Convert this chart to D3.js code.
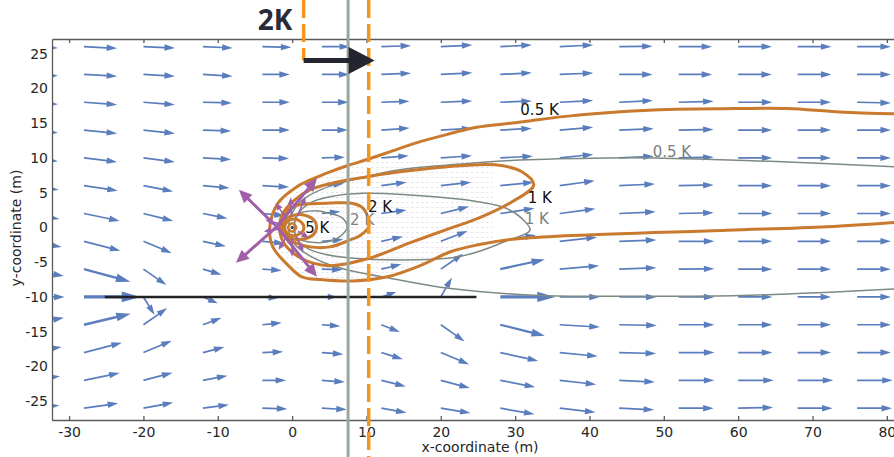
<!DOCTYPE html>
<html lang="en">
<head>
  <meta charset="UTF-8">
  <script src="https://d3js.org/d3.v7.min.js"></script>
  <title>Heat plume and flow field</title>
  <style>
  body { margin:0; background:#fff; }
  svg { display:block; }
  .axis text { font-family: "DejaVu Sans", sans-serif; font-size:14px; fill:#262626; }
  .axis path, .axis line { stroke:#5a5a5a; stroke-width:1.3; }
  .axis-title { font-family: "DejaVu Sans", sans-serif; font-size:14px; fill:#262626; }
  .clabel { font-family: "DejaVu Sans", sans-serif; font-size:15px; }
  .big-label { font-family: "Open Sans", sans-serif; font-weight:700; font-size:28px; fill:#2b2b38; }
  </style>
</head>
<body>
<svg id="chart" width="894" height="457"></svg>
<script>

// quiver grid (m) and flow components
const flowX = [-36, -28, -20, -12, -4, 4, 12, 20, 28, 36, 44, 52, 60, 68, 76];
const flowY = [26, 22, 18, 14, 10, 6, 2, -2, -6, -10, -14, -18, -22, -26];
const flowU = [
  [4.5, 4.46, 4.24, 4.0, 3.9, 3.8, 4.0, 4.25, 4.25, 4.5, 4.5, 4.5, 4.55, 4.55, 4.55],
  [4.5, 4.46, 4.24, 4.0, 3.7, 3.7, 4.0, 4.25, 4.25, 4.5, 4.5, 4.5, 4.55, 4.55, 4.55],
  [4.5, 4.46, 4.24, 3.9, 3.7, 3.6, 3.8, 4.25, 4.25, 4.5, 4.55, 4.7, 4.6, 4.5, 4.55],
  [4.5, 4.46, 4.24, 3.8, 3.7, 3.5, 3.8, 4.25, 4.25, 4.5, 4.65, 4.7, 4.6, 4.5, 4.55],
  [4.5, 4.46, 4.24, 3.8, 3.6, 3.1, 3.7, 4.2, 4.4, 4.5, 4.65, 4.7, 4.6, 4.5, 4.55],
  [4.6, 4.55, 4.0, 3.6, 3.6, 3.0, 3.4, 4.1, 4.5, 4.7, 4.8, 4.7, 4.6, 4.5, 4.55],
  [4.7, 4.8, 4.0, 3.3, 3.0, 2.5, 3.4, 3.8, 4.6, 4.8, 4.9, 4.7, 4.6, 4.5, 4.55],
  [5.0, 4.9, 3.8, 3.1, 3.0, 2.9, 2.9, 3.6, 4.8, 5.0, 5.0, 4.8, 4.6, 4.5, 4.55],
  [5.3, 6.25, 3.1, 2.5, 2.6, 2.8, 2.7, 3.0, 6.0, 5.3, 5.0, 4.8, 4.6, 4.5, 4.55],
  [5.4, 7.6, 1.5, 2.0, 2.1, 2.0, 2.0, 1.5, 7.4, 5.4, 5.0, 4.8, 4.6, 4.5, 4.55],
  [5.3, 6.3, 3.2, 2.5, 2.6, 2.5, 2.5, 3.2, 6.0, 5.4, 5.05, 4.8, 4.6, 4.5, 4.55],
  [5.0, 5.1, 3.8, 2.9, 2.8, 2.9, 2.9, 3.8, 5.1, 5.1, 4.96, 4.8, 4.6, 4.5, 4.55],
  [4.8, 4.8, 3.9, 3.3, 3.2, 3.1, 3.3, 3.9, 4.7, 4.9, 4.8, 4.8, 4.8, 4.8, 4.8],
  [4.7, 4.6, 4.0, 3.5, 3.35, 3.35, 3.4, 4.0, 4.6, 4.8, 4.7, 4.7, 4.7, 4.7, 4.7]
];
const flowV = [
  [-0.2, -0.24, -0.19, -0.19, -0.1, 0, 0.14, 0.24, 0.24, 0.24, 0.05, 0, 0, 0, 0],
  [-0.2, -0.24, -0.24, -0.24, 0, 0, 0.19, 0.24, 0.24, 0.2, 0, 0, 0, 0, 0],
  [-0.3, -0.34, -0.34, -0.1, 0, 0, 0.14, 0.2, 0.2, 0.24, 0.24, 0.14, 0, 0, -0.1],
  [-0.4, -0.48, -0.48, -0.14, 0, 0, 0.29, 0.24, 0.24, 0.4, 0.2, 0.1, 0, 0, 0],
  [-0.5, -0.58, -0.58, -0.24, -0.1, 0.1, 0.3, 0.3, 0.24, 0.5, 0.24, 0.1, 0, 0, 0],
  [-0.6, -0.72, -0.82, -0.34, -0.2, 0.3, 0.5, 0.5, 0.5, 0.7, 0.24, 0.1, 0, 0, 0],
  [-0.8, -1.06, -1.06, -0.72, -0.3, 0.3, 0.5, 1.0, 0.75, 0.7, 0.24, 0.1, 0, 0, 0],
  [-0.8, -1.35, -1.7, -0.72, -0.3, 0.25, 0.7, 1.5, 0.9, 0.6, 0.2, 0, 0, 0, 0],
  [-1.0, -1.8, -2.3, -0.8, -0.2, -0.1, 0.7, 2.2, 1.4, 0.5, 0.2, 0.05, 0, 0, 0],
  [0, 0, -2.6, -0.9, -0.2, 0, 0.7, 2.8, 0, 0, 0, 0, 0, 0, 0],
  [1.0, 1.6, 2.4, 1.0, 0.3, -0.2, -1.06, -2.4, -1.6, -0.34, -0.1, 0, 0, 0, 0],
  [0.8, 1.4, 1.7, 0.8, 0.1, -0.25, -0.96, -1.7, -1.2, -0.53, -0.14, 0, 0, 0, 0],
  [0.6, 1.06, 1.1, 0.67, 0, -0.24, -0.87, -1.1, -0.96, -0.58, -0.24, 0, 0, 0, 0],
  [0.4, 0.7, 0.8, 0.5, -0.1, -0.2, -0.67, -0.7, -0.87, -0.6, -0.24, 0, 0.1, 0, 0]
];

// heat flux arrows around the source (tail x, tail y, u, v)
const fluxX = [-2.06, -2.06, -2.06, -2.06, -1.3, -1.4, -0.8, -0.1, 0.7, -0.7, 0, 0.6, 0.8];
const fluxY = [0.1, 0.1, 0.1, 0.1, 0.4, -0.2, 1.3, 1.6, 1.6, -1.2, -1.5, -1.3, -0.55];
const fluxU = [-5.1, -5.5, 5.4, 5.4, -2.3, -2.4, -1.4, -0.1, 1.1, -1.1, 0, 0.9, 1.4];
const fluxV = [5.3, -5.2, 7.0, -7.2, 0.7, -0.4, 2.2, 2.7, 2.8, -2.0, -2.7, -2.2, -0.95];
const fluxBig = [1, 1, 1, 1, 0, 0, 0, 0, 0, 0, 0, 0, 0];

// isotherms, model A (orange) and model B (grey), [x, y] in m
const isoA05 = [[82.1,16.3],[73.7,16.6],[66.6,17.1],[59.9,17.1],[48.6,16.9],[42.4,16.5],[36.1,15.9],[31.1,15.2],
  [24.3,14.3],[21.3,13.5],[16.8,12.2],[13.5,11.0],[10.2,9.8],[7.5,8.9],[5.1,8.0],[3.0,7.1],[0.7,5.9],[-1.9,3.5],[-3.0,0.1],
  [-2.6,-2.8],[-0.4,-5.6],[1.3,-7.1],[3.8,-7.5],[8.2,-7.7],[12.8,-7.1],[17.2,-5.5],[21.3,-3.5],[25.0,-2.5],
  [29.6,-1.7],[36.7,-1.2],[58.5,-0.4],[72.0,0.1],[82.1,0.8]];
const isoA1 = [[32.5,6.1],[30.9,8.0],[27.3,9.0],[20.6,8.7],[14.5,8.0],[10.2,7.3],[5.1,6.3],[2.4,5.4],[0.4,4.0],
  [-1.2,2.1],[-1.7,0.1],[-1.2,-2.1],[0.4,-3.9],[2.4,-5.0],[5.1,-5.5],[10.5,-4.4],[15.9,-2.2],[21.3,-0.1],
  [25.0,1.3],[29.6,3.7]];
const isoA2 = [[-1.3,0.2],[-0.9,2.1],[0.4,3.1],[2.4,3.4],[5.1,3.5],[7.8,3.5],[9.4,2.9],[10.0,2.0],[10.3,0.1],
  [9.1,-1.2],[7.8,-1.8],[5.1,-2.8],[2.4,-2.8],[0.4,-2.2],[-0.9,-1.2]];
const isoA3 = [[-1.15,0],[-0.8,1.2],[0.4,1.8],[1.9,1.7],[3.0,1.0],[3.3,0],[2.9,-1.0],[1.8,-1.6],[0.4,-1.7],[-0.8,-1.1]];
const isoA4 = [[-1.0,0],[-0.6,0.9],[0.3,1.2],[1.2,0.8],[1.6,0],[1.2,-0.8],[0.3,-1.2],[-0.6,-0.9]];
const isoA5 = [[-0.55,0],[0,0.6],[0.55,0],[0,-0.6]];
const isoB05 = [[81.8,8.7],[64.3,9.5],[48.6,10.0],[42.4,10.0],[30.7,9.7],[21.3,9.0],[14.5,8.3],[9.1,7.1],
  [3.8,5.4],[1.1,3.7],[-0.1,1.8],[-0.5,-0.1],[-0.1,-1.8],[1.1,-3.2],[5.1,-5.4],[14.1,-7.5],[21.3,-8.8],
  [33.4,-9.8],[46.8,-9.9],[60.3,-9.8],[81.8,-8.8]];
const isoB1 = [[32.0,-0.4],[30.9,1.3],[28.7,2.8],[25.0,3.7],[21.3,4.2],[9.6,4.9],[5.1,4.4],[2.4,3.5],[0.7,1.8],
  [0.3,-0.1],[0.7,-1.8],[2.4,-3.2],[7.8,-4.4],[21.3,-4.4],[25.0,-3.5],[28.7,-2.0]];
const isoB2 = [[0.6,1.8],[3.1,2.4],[5.1,2.0],[6.7,1.4],[7.4,0.1],[6.7,-1.1],[5.1,-2.0],[2.4,-2.1],[0.6,-1.5],[0.3,0.1]];

const labelText = ["0.5 K", "1 K", "2 K", "5 K", "0.5 K", "1 K", "2 K"];
const labelX = [30.7, 31.7, 10.2, 1.75, 48.5, 31.3, 7.8];
const labelY = [16.1, 3.5, 2.2, -0.8, 10.1, 0.5, 0.4];
const labelGrey = [0, 0, 0, 0, 1, 1, 1];

const xTicks = [-30, -20, -10, 0, 10, 20, 30, 40, 50, 60, 70, 80];
const yTicks = [-25, -20, -15, -10, -5, 0, 5, 10, 15, 20, 25];

// chart set-up
const svg = d3.select("svg#chart");
const width = +svg.attr("width");
const height = +svg.attr("height");
const plot = {left: 52, top: 39, bottom: 420};

const xScale = d3.scaleLinear().domain([-32.3, 82.2]).range([plot.left, plot.left + 114.5 * 7.434]);
const yScale = d3.scaleLinear().domain([-27.7, 27.1]).range([plot.bottom, plot.top]);

const defs = svg.append("defs");
defs.append("clipPath").attr("id", "plotClip")
  .append("rect").attr("x", plot.left).attr("y", plot.top)
  .attr("width", width - plot.left).attr("height", plot.bottom - plot.top);
defs.append("clipPath").attr("id", "nearClip")
  .append("rect").attr("x", xScale(-3.5)).attr("y", yScale(10))
  .attr("width", xScale(27) - xScale(-3.5)).attr("height", yScale(-10) - yScale(10));
const pat = defs.append("pattern").attr("id", "fine")
  .attr("patternUnits", "userSpaceOnUse").attr("width", 5).attr("height", 5);
pat.append("path").attr("d", "M1,2.5h2.6").attr("stroke", "#d6d1dc").attr("stroke-width", 0.9);

const chartArea = svg.append("g").attr("clip-path", "url(#plotClip)");

function arrowPath(x0, y0, x1, y1, w, hl, hw) {
  const dx = x1 - x0, dy = y1 - y0, L = Math.hypot(dx, dy);
  const ux = dx / L, uy = dy / L, px = -uy, py = ux;
  const h = Math.min(hl, L * 0.6);
  const bx = x1 - ux * h, by = y1 - uy * h;
  const pts = [
    [x0 + px * w / 2, y0 + py * w / 2], [bx + px * w / 2, by + py * w / 2], [bx + px * hw, by + py * hw],
    [x1, y1], [bx - px * hw, by - py * hw], [bx - px * w / 2, by - py * w / 2], [x0 - px * w / 2, y0 - py * w / 2]
  ];
  return "M" + pts.map(p => p[0].toFixed(2) + "," + p[1].toFixed(2)).join("L") + "Z";
}

// faint dense field near the source
chartArea.append("g").attr("clip-path", "url(#nearClip)")
  .append("path")
  .attr("d", d3.line().x(d => xScale(d[0])).y(d => yScale(d[1])).curve(d3.curveCatmullRom)(isoA05))
  .attr("fill", "url(#fine)").attr("opacity", 0.65);

// blue quiver
let quiver = [];
flowY.forEach((y, i) => flowX.forEach((x, j) => quiver.push({x: x, y: y, u: flowU[i][j], v: flowV[i][j]})));

chartArea.append("g").selectAll("path.flow")
  .data(quiver)
  .join("path")
  .attr("class", "flow")
  .attr("fill", "#5a7dbd")
  .attr("d", d => {
    const x0 = xScale(d.x), y0 = yScale(d.y), x1 = xScale(d.x + d.u), y1 = yScale(d.y + d.v);
    const L = Math.hypot(x1 - x0, y1 - y0);
    const w = L > 40 ? 1.7 + (L - 40) * 0.1 : 1.7;
    return arrowPath(x0, y0, x1, y1, w, 5 * w + 2, 1.3 * w + 1);
  });

// isotherms
const openLine = d3.line().x(d => xScale(d[0])).y(d => yScale(d[1])).curve(d3.curveCatmullRom);
const closedLine = d3.line().x(d => xScale(d[0])).y(d => yScale(d[1])).curve(d3.curveCatmullRomClosed);

let greyG = chartArea.append("g").attr("fill", "none").attr("stroke", "#7d8a84").attr("stroke-width", 1.5);
greyG.append("path").attr("d", openLine(isoB05));
greyG.append("path").attr("d", closedLine(isoB1));
greyG.append("path").attr("d", closedLine(isoB2));

let orangeG = chartArea.append("g").attr("fill", "none").attr("stroke", "#c97a2e").attr("stroke-width", 3);
orangeG.append("path").attr("d", openLine(isoA05));
[isoA1, isoA2, isoA3, isoA4].forEach(c => orangeG.append("path").attr("d", closedLine(c)));
orangeG.append("path").attr("d", closedLine(isoA5)).attr("stroke-width", 2.5);

// heat flux arrows
chartArea.append("g").selectAll("path.flux")
  .data(fluxX.map((x, i) => ({x: x, y: fluxY[i], u: fluxU[i], v: fluxV[i], big: fluxBig[i]})))
  .join("path")
  .attr("class", "flux")
  .attr("fill", "#a05fa8")
  .attr("d", d => arrowPath(xScale(d.x), yScale(d.y), xScale(d.x + d.u), yScale(d.y + d.v),
    d.big ? 3 : 1.6, d.big ? 13 : 7, d.big ? 6 : 3.2));

chartArea.append("circle").attr("cx", xScale(0)).attr("cy", yScale(0)).attr("r", 1.5).attr("fill", "#333");

// contour labels
chartArea.append("g").selectAll("text.clabel")
  .data(labelText)
  .join("text")
  .attr("class", "clabel")
  .attr("x", (d, i) => xScale(labelX[i]))
  .attr("y", (d, i) => yScale(labelY[i]))
  .attr("fill", (d, i) => labelGrey[i] ? "#7a807d" : "#111")
  .text(d => d);

// line at y = -10
chartArea.append("line")
  .attr("x1", xScale(-25.2)).attr("x2", xScale(24.8))
  .attr("y1", yScale(-10)).attr("y2", yScale(-10))
  .attr("stroke", "#222").attr("stroke-width", 2.4);

// axes
const xAxis = d3.axisBottom(xScale).tickValues(xTicks).tickFormat(d => String(d))
  .tickSize(-4).tickSizeOuter(0).tickPadding(7);
svg.append("g").attr("class", "axis")
  .attr("transform", `translate(0,${plot.bottom})`).call(xAxis);
svg.append("g").attr("class", "axis")
  .attr("transform", `translate(0,${plot.top})`)
  .call(d3.axisTop(xScale).tickValues(xTicks).tickFormat("").tickSize(-4).tickSizeOuter(0));
svg.append("g").attr("class", "axis")
  .attr("transform", `translate(${plot.left},0)`)
  .call(d3.axisLeft(yScale).tickValues(yTicks).tickFormat(d => String(d)).tickSize(0).tickPadding(4));
svg.selectAll(".axis text").attr("font-size", null).attr("font-family", null);

svg.append("text").attr("class", "axis-title")
  .attr("x", 480).attr("y", 452).attr("text-anchor", "middle")
  .text("x-coordinate (m)");
svg.append("text").attr("class", "axis-title")
  .attr("transform", "translate(21,228) rotate(-90)").attr("text-anchor", "middle")
  .text("y-coordinate (m)");

// annotations over the plot
let annotations = svg.append("g");
annotations.append("line")
  .attr("x1", xScale(7.53)).attr("x2", xScale(7.53)).attr("y1", 0).attr("y2", height)
  .attr("stroke", "#9aa79f").attr("stroke-width", 3);
annotations.append("line")
  .attr("x1", xScale(10.3)).attr("x2", xScale(10.3)).attr("y1", 0).attr("y2", height)
  .attr("stroke", "#f4951d").attr("stroke-width", 3.5).attr("stroke-dasharray", "18,6");
annotations.append("line")
  .attr("x1", xScale(1.55)).attr("x2", xScale(1.55)).attr("y1", 0).attr("y2", yScale(24))
  .attr("stroke", "#f4951d").attr("stroke-width", 3.5).attr("stroke-dasharray", "18,6");
annotations.append("path")
  .attr("d", arrowPath(xScale(1.55), yScale(24), xScale(11.1), yScale(24), 5, 26, 13.5))
  .attr("fill", "#25252f");
annotations.append("text").attr("class", "big-label")
  .attr("x", xScale(-2.3)).attr("y", 30).attr("text-anchor", "middle")
  .text("2K");

</script>
</body>
</html>
